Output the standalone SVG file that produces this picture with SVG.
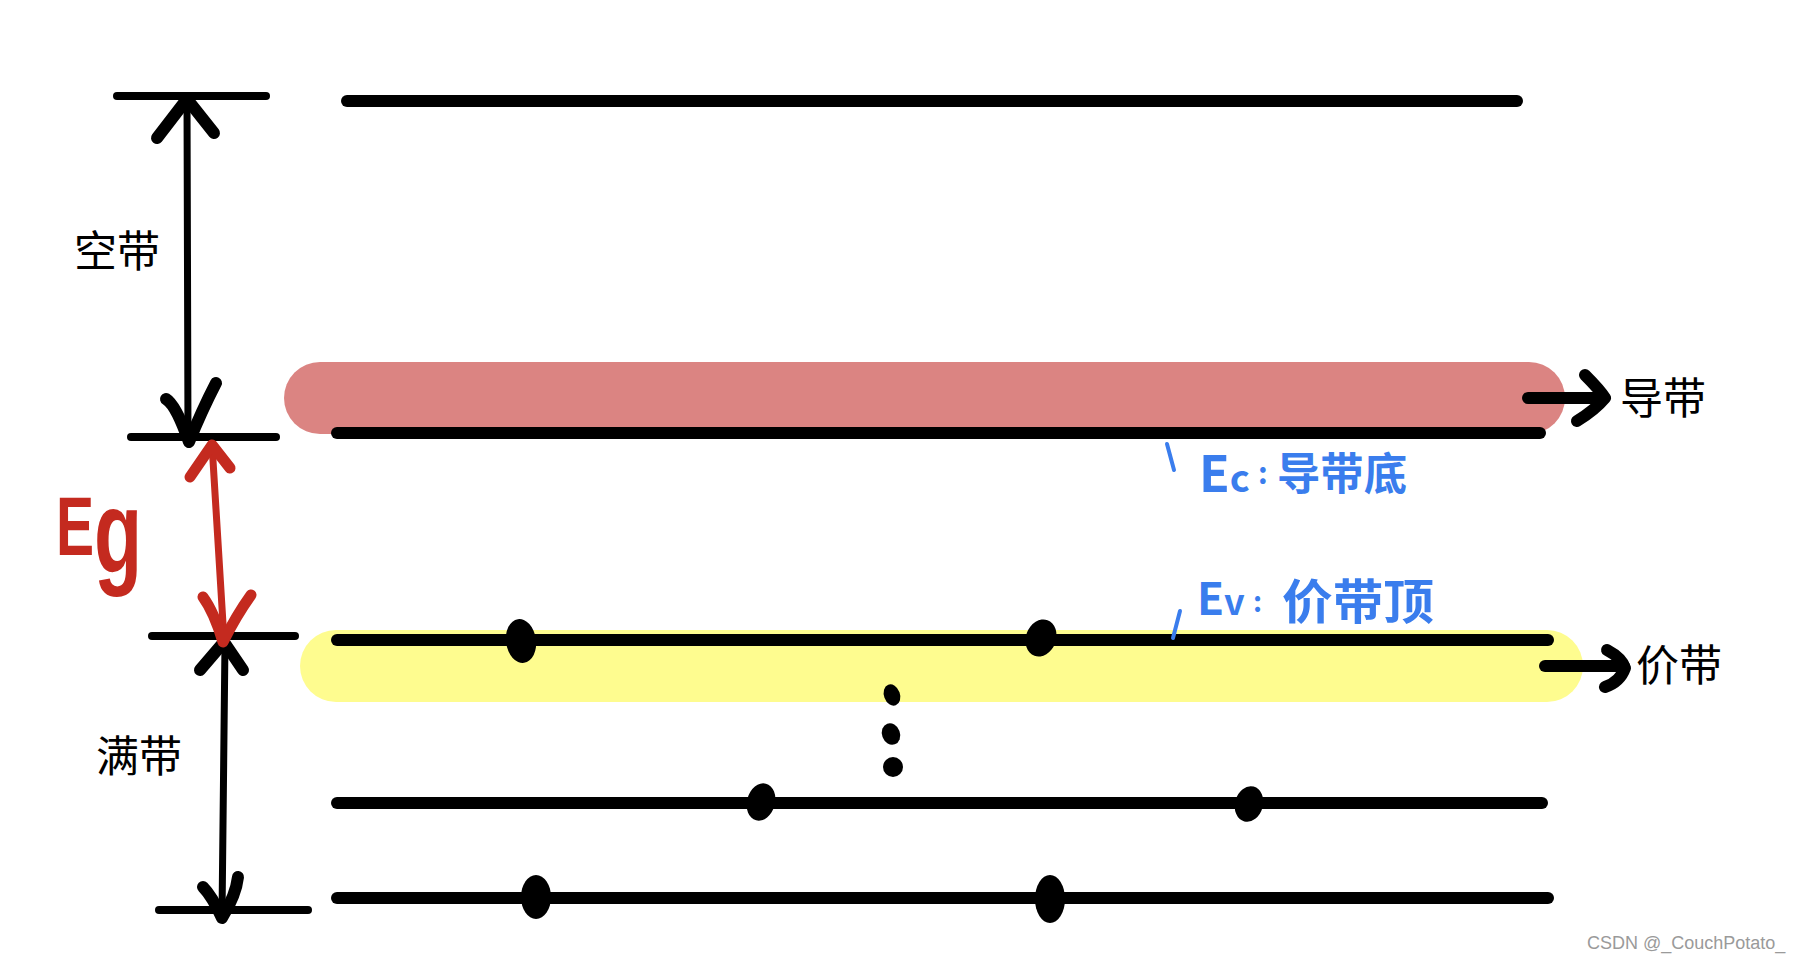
<svg xmlns="http://www.w3.org/2000/svg" width="1797" height="962" viewBox="0 0 1797 962">
<style>
.band{stroke:#000;stroke-width:12;stroke-linecap:round;fill:none}
.bar{stroke:#000;stroke-width:8;stroke-linecap:round;fill:none}
.shaft{stroke:#000;stroke-width:7;stroke-linecap:round;fill:none}
.head{stroke:#000;stroke-width:12;stroke-linecap:round;stroke-linejoin:round;fill:none}
.rshaft{stroke:#C42A1F;stroke-width:7;stroke-linecap:round;fill:none}
.rhead{stroke:#C42A1F;stroke-width:11;stroke-linecap:round;stroke-linejoin:round;fill:none}
.blue{stroke:#3A7DED;stroke-width:4;stroke-linecap:round;fill:none}
.lbl{font-family:"Noto Sans CJK SC","Noto Sans",sans-serif;font-size:43px;fill:#000}
.hand{font-family:"Noto Sans CJK SC","Liberation Sans",sans-serif;font-weight:bold;fill:#3A7DED}
.eg{font-family:"Liberation Sans",sans-serif;font-weight:bold;fill:#C42A1F}
.dot{fill:#000}
</style>
<rect width="1797" height="962" fill="#fff"/>

<g id="highlights">
  <rect id="conduction-highlight" x="284" y="362" width="1281" height="72" rx="36" fill="#DB8482"/>
  <rect id="valence-highlight" x="300" y="630" width="1283" height="72" rx="36" fill="#FEFC8F"/>
</g>

<g id="band-top"><line class="band" x1="347" y1="101" x2="1517" y2="101"/></g>
<g id="band-conduction"><line class="band" x1="337" y1="433" x2="1540" y2="433"/></g>
<g id="band-valence">
  <line class="band" x1="337" y1="640" x2="1548" y2="640"/>
  <ellipse class="dot" cx="521" cy="641" rx="15" ry="22" transform="rotate(-8 521 641)"/>
  <ellipse class="dot" cx="1041" cy="638" rx="15" ry="19" transform="rotate(20 1041 638)"/>
</g>
<g id="band-2">
  <line class="band" x1="337" y1="803" x2="1542" y2="803"/>
  <ellipse class="dot" cx="761" cy="802" rx="14" ry="19" transform="rotate(15 761 802)"/>
  <ellipse class="dot" cx="1249" cy="804" rx="14" ry="18" transform="rotate(15 1249 804)"/>
</g>
<g id="band-3">
  <line class="band" x1="337" y1="898" x2="1548" y2="898"/>
  <ellipse class="dot" cx="536" cy="897" rx="15" ry="22"/>
  <ellipse class="dot" cx="1050" cy="899" rx="15" ry="24"/>
</g>
<g id="ellipsis-dots">
  <ellipse class="dot" cx="892" cy="695" rx="8" ry="11" transform="rotate(-20 892 695)"/>
  <ellipse class="dot" cx="891" cy="734" rx="9" ry="11" transform="rotate(-20 891 734)"/>
  <ellipse class="dot" cx="893" cy="767" rx="10" ry="10"/>
</g>

<g id="connectors">
  <!-- empty band dimension -->
  <line class="bar" x1="117" y1="96" x2="266" y2="96"/>
  <line class="bar" x1="131" y1="437" x2="276" y2="437"/>
  <line class="shaft" x1="187" y1="99" x2="188" y2="440"/>
  <polyline class="head" points="157,138 187,99 214,133"/>
  <path class="head" d="M166,399 Q176,405 189,442 Q202,410 216,383"/>
  <!-- full band dimension -->
  <line class="bar" x1="152" y1="636" x2="295" y2="636"/>
  <line class="bar" x1="159" y1="910" x2="308" y2="910"/>
  <line class="shaft" x1="225" y1="642" x2="222" y2="916"/>
  <polyline class="head" points="200,670 224,642 243,670"/>
  <path class="head" d="M203,887 Q212,896 222,918 Q236,895 238,877"/>
  <!-- Eg gap arrow -->
  <line class="rshaft" x1="212" y1="444" x2="224" y2="640"/>
  <polyline class="rhead" points="190,477 212,445 230,468"/>
  <path class="rhead" d="M203,597 Q214,612 223,642 Q236,616 251,595"/>
  <!-- band label arrows -->
  <line class="head" x1="1528" y1="398" x2="1604" y2="398"/>
  <path class="head" d="M1585,375 Q1600,390 1605,398 Q1595,410 1577,421"/>
  <line class="head" x1="1545" y1="666" x2="1624" y2="666"/>
  <path class="head" d="M1607,650 Q1622,658 1625,668 Q1620,682 1605,687"/>
</g>

<g id="label-empty"><text class="lbl" x="74" y="267">空带</text></g>
<g id="label-full"><text class="lbl" x="96" y="772">满带</text></g>
<g id="label-conduction"><text class="lbl" x="1620" y="414">导带</text></g>
<g id="label-valence"><text class="lbl" x="1636" y="681">价带</text></g>

<g id="label-eg">
  <text class="eg" transform="translate(56,0) scale(0.68,1)" x="0" y="555" font-size="84">E<tspan font-size="116" dy="17">g</tspan></text>
</g>

<g id="note-ec">
  <line class="blue" x1="1167" y1="444" x2="1174" y2="470"/>
  <text class="hand" x="1199" y="492" font-size="50">E<tspan font-size="38">c</tspan></text>
  <text class="hand" x="1258" y="484" font-size="30">:</text>
  <text class="hand" x="1277" y="490" font-size="44" textLength="130" lengthAdjust="spacingAndGlyphs">导带底</text>
</g>
<g id="note-ev">
  <line class="blue" x1="1180" y1="611" x2="1173" y2="638"/>
  <text class="hand" x="1197" y="615" font-size="44">E<tspan font-size="36">v</tspan></text>
  <text class="hand" x="1253" y="612" font-size="28">:</text>
  <text class="hand" x="1282" y="619" font-size="48" textLength="152" lengthAdjust="spacingAndGlyphs">价带顶</text>
</g>

<text x="1587" y="949" font-family="Liberation Sans, sans-serif" font-size="18" fill="#9a9a9a">CSDN @_CouchPotato_</text>
</svg>
